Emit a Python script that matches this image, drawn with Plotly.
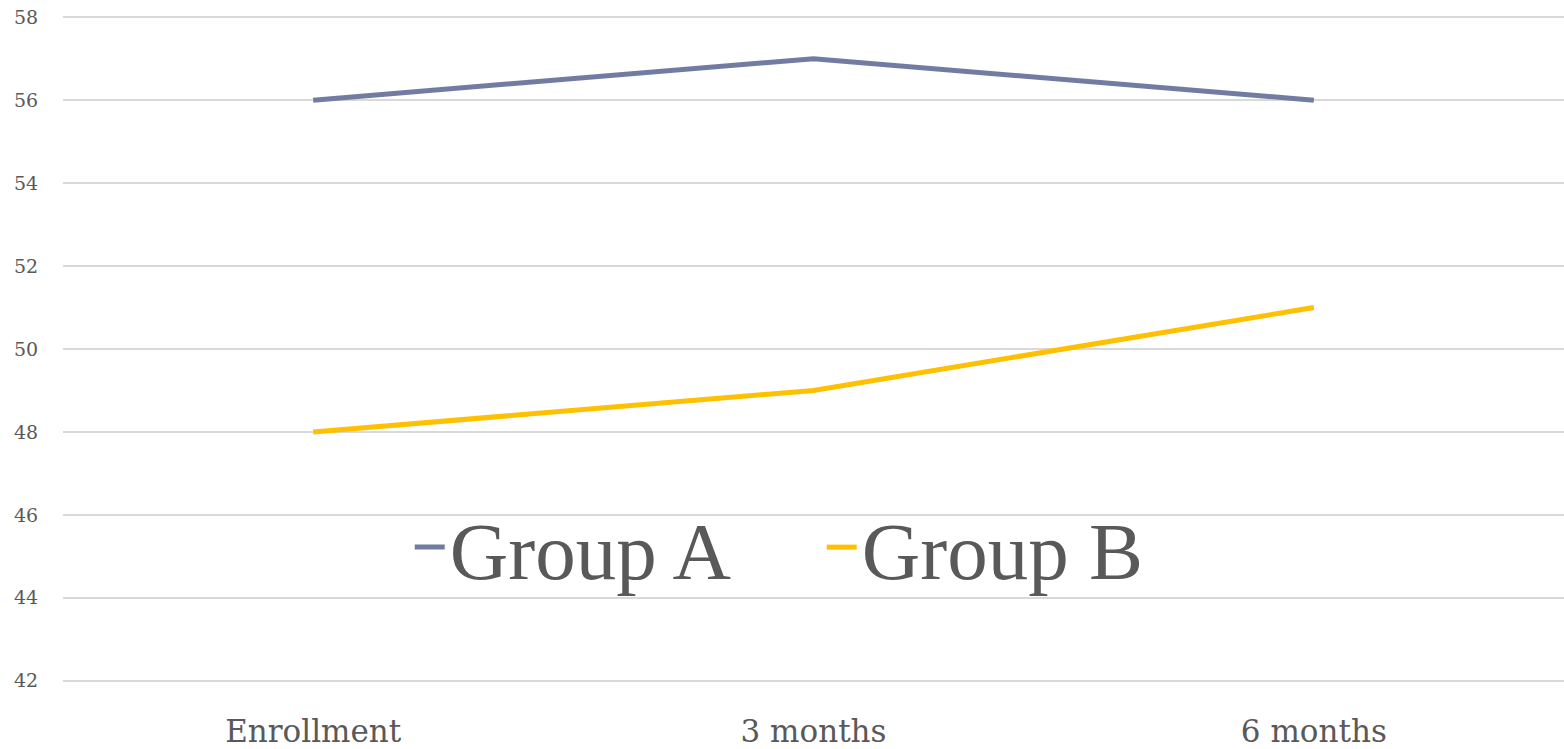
import plotly.graph_objects as go

categories = ["Enrollment", "3 months", "6 months"]
group_a = [56, 57, 56]
group_b = [48, 49, 51]
y_ticks = [42, 44, 46, 48, 50, 52, 54, 56, 58]

fig = go.Figure()
fig.add_trace(go.Scatter(x=categories, y=group_a, mode="lines", name="Group A",
                         line=dict(color="#717CA3", width=5)))
fig.add_trace(go.Scatter(x=categories, y=group_b, mode="lines", name="Group B",
                         line=dict(color="#FFC000", width=5)))

fig.update_layout(
    width=1564, height=749,
    margin=dict(l=63, r=0, t=16, b=65),
    paper_bgcolor="white", plot_bgcolor="white",
    showlegend=True,
    legend=dict(orientation="h", x=0.231, y=0.202, xanchor="left", yanchor="middle",
                font=dict(family="Liberation Serif", size=81, color="#595959"),
                bgcolor="rgba(0,0,0,0)", itemwidth=30,
                entrywidth=367, entrywidthmode="pixels"),
    xaxis=dict(type="category", range=[-0.5, 2.5], showgrid=False, zeroline=False,
               showline=False, ticks="outside", ticklen=22, tickcolor="rgba(0,0,0,0)",
               tickfont=dict(family="DejaVu Serif", size=31, color="#595959")),
    yaxis=dict(range=[41.97, 58.03], tickvals=y_ticks, showgrid=True, gridcolor="#D9D9D9",
               gridwidth=1.5, zeroline=False, showline=False, ticks="outside",
               ticklen=20, tickcolor="rgba(0,0,0,0)",
               tickfont=dict(family="DejaVu Serif", size=19, color="#595959")),
)

fig.write_html("out.html")
